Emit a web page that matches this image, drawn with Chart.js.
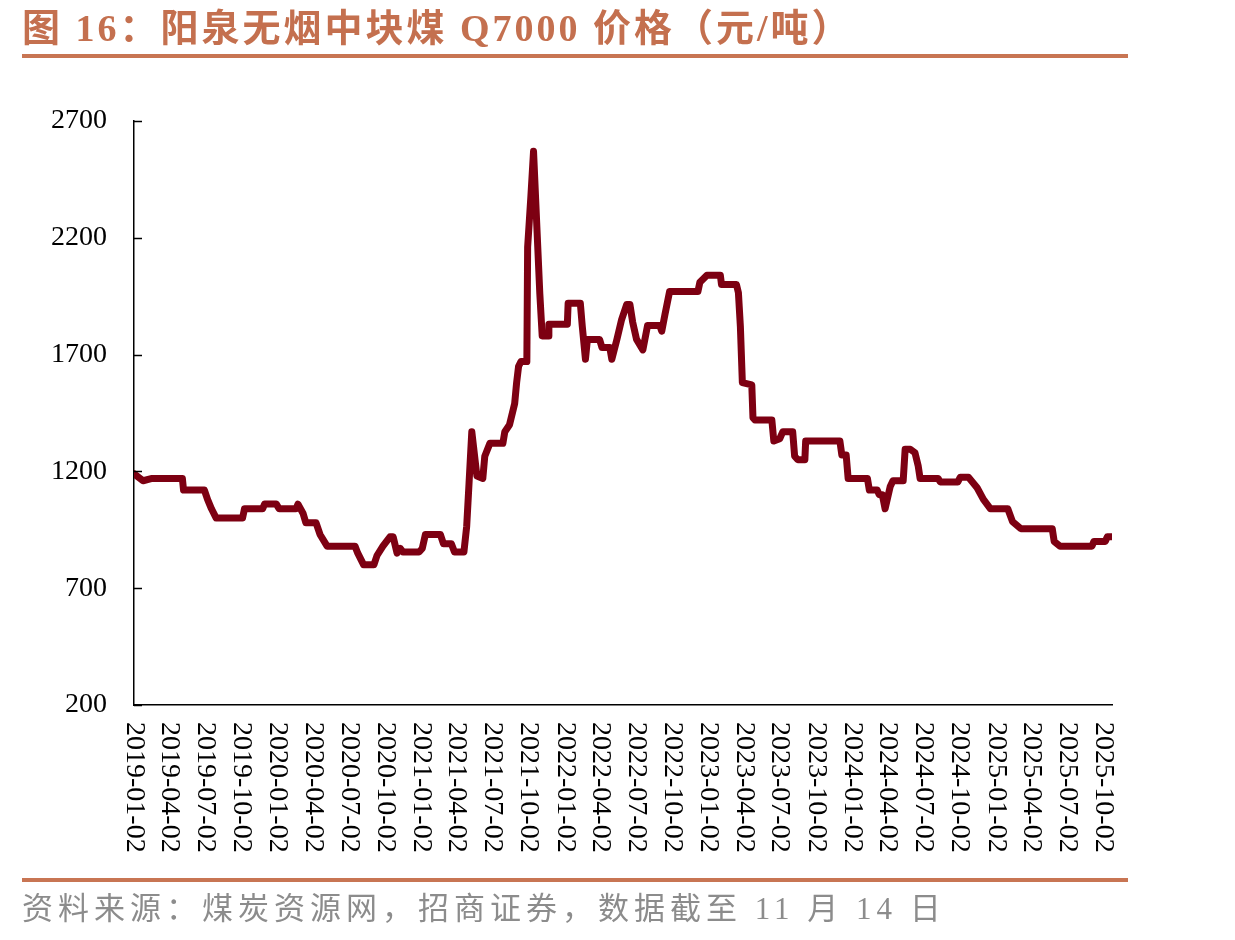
<!DOCTYPE html>
<html>
<head>
<meta charset="utf-8">
<script src="https://cdn.jsdelivr.net/npm/chart.js@4/dist/chart.umd.min.js"></script>
<style>
  html, body { margin: 0; padding: 0; background: #fff; }
  #page { position: relative; width: 1235px; height: 940px; overflow: hidden; }
  #wrap { position: absolute; left: 0; top: 0; width: 1235px; height: 940px; }
  .title { position: absolute; left: 22px; top: 3px; height: 50px; line-height: 50px; white-space: nowrap;
    font-family: "Liberation Serif", "Noto Sans CJK SC", serif; font-weight: bold; font-size: 38px;
    letter-spacing: 3px; color: #c4704f; }
  .rule { position: absolute; left: 22px; width: 1106px; height: 4px; background: #c87553; }
  .foot { position: absolute; left: 22px; top: 885px; height: 48px; line-height: 48px; white-space: nowrap;
    font-family: "Liberation Serif", "Noto Sans CJK SC", serif; font-size: 31px; letter-spacing: 5px; color: #8c8c8c; }
</style>
</head>
<body>
<div id="page">
  <div id="wrap"><canvas id="myChart"></canvas></div>
  <div class="title">图 16：阳泉无烟中块煤 Q7000 价格（元/吨）</div>
  <div class="rule" style="top:54px"></div>
  <div class="rule" style="top:878px"></div>
  <div class="foot">资料来源：煤炭资源网，招商证券，数据截至 11 月 14 日</div>
</div>
<script>
// price series (元/吨)
var dates = [
  '2019-01-02','2019-01-25','2019-02-17','2019-05-05','2019-05-08','2019-06-30','2019-07-08','2019-07-18','2019-07-30',
  '2019-10-05','2019-10-10','2019-11-25','2019-11-30','2019-12-30','2020-01-06','2020-02-18','2020-02-23','2020-03-07',
  '2020-03-14','2020-04-09','2020-04-19','2020-05-07','2020-07-17','2020-07-24','2020-08-08','2020-09-03','2020-09-11',
  '2020-09-26','2020-10-14','2020-10-22','2020-11-01','2020-11-09','2020-11-16','2020-12-27','2021-01-04','2021-01-12',
  '2021-02-19','2021-02-27','2021-03-19','2021-03-27','2021-04-20','2021-04-27','2021-05-03','2021-05-10','2021-05-23',
  '2021-06-07','2021-06-12','2021-06-25','2021-07-28','2021-08-02','2021-08-14','2021-08-27','2021-09-01','2021-09-06',
  '2021-09-12','2021-09-27','2021-09-29','2021-10-07','2021-10-14','2021-10-30','2021-11-05','2021-11-20','2021-11-22',
  '2022-01-08','2022-01-10','2022-02-10','2022-02-15','2022-02-23','2022-02-28','2022-03-31','2022-04-06','2022-04-26',
  '2022-05-01','2022-05-14','2022-05-26','2022-06-08','2022-06-16','2022-06-23','2022-07-03','2022-07-19','2022-07-31',
  '2022-08-31','2022-09-05','2022-09-13','2022-09-25','2022-12-06','2022-12-11','2022-12-29','2023-02-01','2023-02-04',
  '2023-03-14','2023-03-19','2023-03-24','2023-03-29','2023-04-22','2023-04-25','2023-04-30','2023-06-12','2023-06-17',
  '2023-07-02','2023-07-10','2023-08-04','2023-08-09','2023-08-17','2023-09-04','2023-09-06','2023-12-02','2023-12-07',
  '2023-12-18','2023-12-23','2024-02-10','2024-02-15','2024-03-06','2024-03-11','2024-03-19','2024-03-26','2024-04-08',
  '2024-04-15','2024-05-11','2024-05-16','2024-05-29','2024-06-10','2024-06-18','2024-06-23','2024-08-08','2024-08-13',
  '2024-09-27','2024-10-03','2024-10-24','2024-11-03','2024-11-15','2024-12-01','2024-12-19','2025-02-01','2025-02-13',
  '2025-03-06','2025-05-25','2025-05-30','2025-06-14','2025-09-03','2025-09-08','2025-10-07','2025-10-12','2025-10-24'
];
var prices = [
  1190,1160,1170,1170,1120,1120,1080,1040,1000,
  1000,1040,1040,1060,1060,1040,1040,1060,1020,
  980,980,930,880,880,850,800,800,840,
  880,920,920,850,870,855,855,870,930,
  930,890,890,855,855,965,1150,1370,1180,
  1170,1265,1320,1320,1370,1400,1490,1580,1650,
  1670,1670,2160,2370,2570,1960,1780,1780,1830,
  1830,1920,1920,1820,1680,1765,1765,1730,1730,
  1680,1765,1850,1915,1915,1840,1765,1720,1825,
  1825,1800,1870,1970,1970,2010,2040,2040,2000,
  2000,1965,1820,1580,1570,1430,1420,1420,1330,
  1340,1370,1370,1265,1250,1250,1330,1330,1270,
  1270,1170,1170,1120,1120,1100,1100,1040,1135,
  1160,1160,1295,1295,1280,1225,1170,1170,1155,
  1155,1175,1175,1155,1130,1080,1040,1040,985,
  955,955,900,880,880,900,900,920,920
];
var xTickLabels = [
  '2019-01-02','2019-04-02','2019-07-02','2019-10-02','2020-01-02','2020-04-02','2020-07-02',
  '2020-10-02','2021-01-02','2021-04-02','2021-07-02','2021-10-02','2022-01-02','2022-04-02',
  '2022-07-02','2022-10-02','2023-01-02','2023-04-02','2023-07-02','2023-10-02','2024-01-02',
  '2024-04-02','2024-07-02','2024-10-02','2025-01-02','2025-04-02','2025-07-02','2025-10-02'
];
var yTicks = [200, 700, 1200, 1700, 2200, 2700];

var dayNum = (s) => (Date.parse(s + 'T00:00:00Z') - Date.parse(dates[0] + 'T00:00:00Z')) / 86400000;

// y ticks pointing inward + vertical date labels read top to bottom
var axisDecor = {
  id: 'axisDecor',
  afterDraw: (chart) => {
    var ctx = chart.ctx, xs = chart.scales.x, ys = chart.scales.y;
    ctx.save();
    ctx.strokeStyle = '#000';
    ctx.lineWidth = 1.5;
    yTicks.forEach((v) => {
      var y = Math.round(ys.getPixelForValue(v)) + 0.5;
      ctx.beginPath();
      ctx.moveTo(xs.left, y);
      ctx.lineTo(xs.left + 8, y);
      ctx.stroke();
    });
    ctx.fillStyle = '#000';
    ctx.font = '28px "Liberation Serif"';
    ctx.textAlign = 'left';
    ctx.textBaseline = 'middle';
    xTickLabels.forEach((lbl) => {
      var x = xs.getPixelForValue(dayNum(lbl));
      ctx.save();
      ctx.translate(x, ys.bottom + 17);
      ctx.rotate(Math.PI / 2);
      ctx.fillText(lbl, 0, 0);
      ctx.restore();
    });
    ctx.restore();
  }
};

var ctx = document.getElementById('myChart').getContext('2d');
var chart = new Chart(ctx, {
  type: 'line',
  data: {
    datasets: [{
      label: '阳泉无烟中块煤 Q7000',
      data: dates.map((d, i) => ({ x: dayNum(d), y: prices[i] })),
      borderColor: '#7d0012',
      borderWidth: 7,
      pointRadius: 0,
      tension: 0,
      borderJoinStyle: 'round',
      borderCapStyle: 'round'
    }]
  },
  options: {
    responsive: true,
    maintainAspectRatio: false,
    animation: false,
    layout: { padding: { top: 121, right: 123, bottom: 0, left: 0 } },
    plugins: { legend: { display: false }, tooltip: { enabled: false } },
    scales: {
      x: {
        type: 'linear',
        min: 0,
        max: dayNum(dates[dates.length - 1]),
        grid: { display: false },
        border: { display: true, color: '#000', width: 1.5 },
        ticks: { display: false },
        afterFit: (s) => { s.height = 235; }
      },
      y: {
        min: 200,
        max: 2700,
        grid: { display: false, drawTicks: false },
        border: { display: true, color: '#000', width: 1.5 },
        afterBuildTicks: (s) => { s.ticks = yTicks.map((v) => ({ value: v })); },
        ticks: {
          padding: 27,
          color: '#000',
          font: { family: 'Liberation Serif', size: 28 },
          callback: (v) => String(v)
        },
        afterFit: (s) => { s.width = 134; }
      }
    }
  },
  plugins: [axisDecor]
});
</script>
</body>
</html>
